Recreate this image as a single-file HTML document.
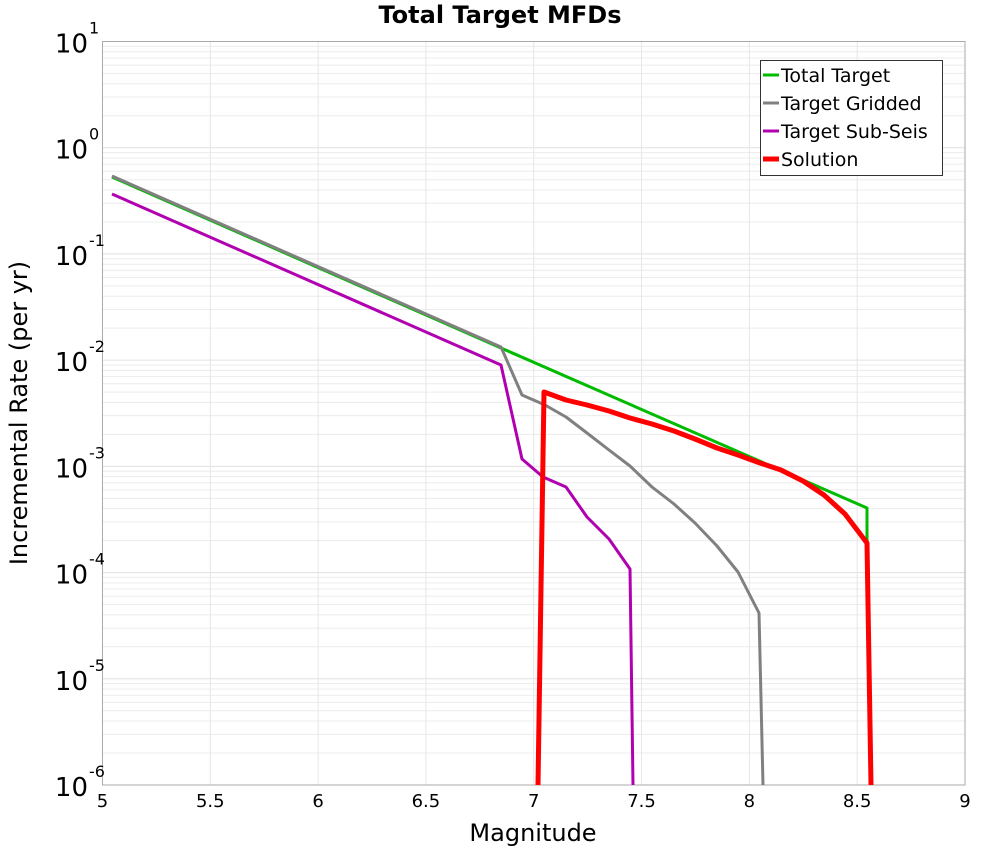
<!DOCTYPE html>
<html><head><meta charset="utf-8"><style>
body{margin:0;background:#fff;width:1000px;height:850px;overflow:hidden}
text{font-family:"DejaVu Sans","Liberation Sans",sans-serif}
</style></head><body>
<svg id="s" width="1000" height="850" xmlns="http://www.w3.org/2000/svg">
<g id="grid"></g>
<rect x="102.5" y="41.5" width="862.5" height="743.5" fill="none" stroke="#aaa" stroke-width="1"/>
<text x="500" y="23" font-size="24" font-weight="bold" text-anchor="middle">Total Target MFDs</text>
<text x="533" y="841" font-size="24" text-anchor="middle">Magnitude</text>
<text transform="translate(27,413) rotate(-90)" font-size="24" text-anchor="middle">Incremental Rate (per yr)</text>
<g id="ticks" font-size="18" text-anchor="middle"></g>
<g id="yt" font-size="26"></g>
<g fill="none" stroke-linejoin="round">
<polyline stroke="#00bb00" stroke-width="3" points="112,177 501,348 867,508 867,543"/>
<polyline stroke="#808080" stroke-width="3" points="112,176 501,347 522,395 545,405 566,417 587,433 609,450 630,466 652,487 674,504 695,523 717,546 738,572 759,613 763,785"/>
<polyline stroke="#b000b0" stroke-width="3" points="112,194 501,365 522,459 543,477 566,487 587,517 609,539 630,569 633,785"/>
<polyline stroke="#ff0000" stroke-width="5" points="538,785 544,392 566,400 587,405 609,411 630,418 652,424 674,431 695,439 717,448 738,455 760,463 781,470 803,481 824,495 845,514 867,543 871,785"/>
</g>
<rect x="760.5" y="60.5" width="182" height="115" fill="#fff" stroke="#333"/>
<g font-size="19">
<line x1="763" y1="75" x2="779" y2="75" stroke="#00bb00" stroke-width="3"/><text x="781" y="82">Total Target</text>
<line x1="763" y1="103" x2="779" y2="103" stroke="#808080" stroke-width="3"/><text x="781" y="110">Target Gridded</text>
<line x1="763" y1="131" x2="779" y2="131" stroke="#b000b0" stroke-width="3"/><text x="781" y="138">Target Sub-Seis</text>
<line x1="763" y1="159" x2="779" y2="159" stroke="#ff0000" stroke-width="5"/><text x="781" y="166">Solution</text>
</g>
</svg>
<script>
var NS="http://www.w3.org/2000/svg",g=document.getElementById('grid'),t=document.getElementById('ticks'),yt=document.getElementById('yt');
function el(p,tag,a,txt){var e=document.createElementNS(NS,tag);for(var k in a)e.setAttribute(k,a[k]);if(txt)e.textContent=txt;p.appendChild(e);return e;}
var D=743.5/7;
for(var d=0;d<7;d++){for(var k=2;k<=9;k++){var y=785-D*(d+Math.log10(k));el(g,'line',{x1:102,x2:965,y1:y,y2:y,stroke:'#ececec','stroke-width':1});}}
for(var d=0;d<=7;d++){var y=785-D*d;el(g,'line',{x1:102,x2:965,y1:y,y2:y,stroke:'#e0e0e0','stroke-width':1});
el(yt,'text',{x:88,y:y+11,'text-anchor':'end'},'10');
el(yt,'text',{x:89,y:y-8,'font-size':16},String(d-6));}
for(var i=0;i<=8;i++){var x=102.5+862.5*i/8;el(g,'line',{x1:x,x2:x,y1:41,y2:785,stroke:'#e6e6e6','stroke-width':1});
el(t,'text',{x:x,y:807},String(5+i*0.5));}
</script>
</body></html>
